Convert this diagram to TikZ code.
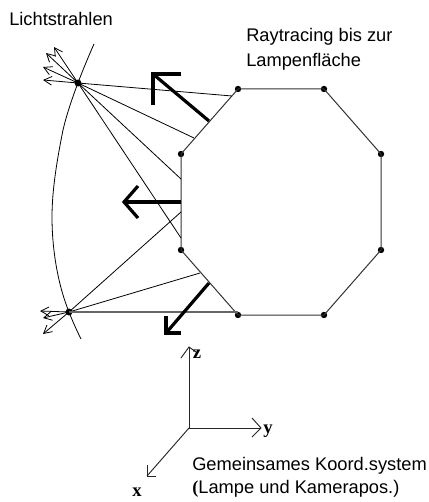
\documentclass[tikz,border=0pt]{standalone}
\usepackage{fontspec}
\setmainfont{Liberation Sans}
\newfontfamily\axisfont{Liberation Serif}
\usetikzlibrary{arrows.meta}
\tikzset{
  x=0.75pt,y=-0.75pt,
  edge/.style={line width=0.75pt,draw=black!80},
  ray/.style={line width=0.6pt,draw=black},
  lightarrow/.style={line width=0.6pt,draw=black,-{Straight Barb[length=6pt,width=6.5pt]}},
  axisline/.style={line width=0.7pt,draw=black!85},
  normalline/.style={line width=2.4pt,draw=black,miter limit=10},
  dotmark/.style={circle,fill=black,inner sep=0pt,minimum size=4.8pt},
  srcmark/.style={circle,fill=black,inner sep=0pt,minimum size=5.2pt},
  label/.style={inner sep=0pt,anchor=base west,font=\fontsize{13.7pt}{15pt}\selectfont},
  axislabel/.style={inner sep=0pt,anchor=base,font=\axisfont\bfseries\fontsize{14pt}{16pt}\selectfont}
}
\begin{document}
\begin{tikzpicture}
\useasboundingbox (0,0) rectangle (428,502);
% octagon
\node[dotmark] (v1) at (238,89) {};
\node[dotmark] (v2) at (324,89) {};
\node[dotmark] (v3) at (381,154) {};
\node[dotmark] (v4) at (381,250) {};
\node[dotmark] (v5) at (324,315) {};
\node[dotmark] (v6) at (238,315) {};
\node[dotmark] (v7) at (181,250) {};
\node[dotmark] (v8) at (181,154) {};
\draw[edge] (v1.center)--(v2.center)--(v3.center)--(v4.center)--(v5.center)--(v6.center)--(v7.center)--(v8.center)--cycle;
% arc
\coordinate (a0) at (94,44);
\coordinate (a9) at (81,339);
\draw[ray] (a0) .. controls (86,62) and (70,100) .. (63,130)
  .. controls (57,160) and (52,190) .. (52,217)
  .. controls (52,250) and (58,285) .. (69,312)
  .. controls (72,320) and (77,331) .. (a9);
% sources
\node[srcmark] (s1) at (78,83) {};
\node[srcmark] (s2) at (69,312) {};
% rays
\coordinate (r1) at (232,96);
\coordinate (r2) at (194,138);
\coordinate (r3) at (181,179);
\coordinate (r4) at (181,238);
\coordinate (r5) at (181,212);
\coordinate (r6) at (200,273);
\coordinate (r7) at (238,312);
\draw[ray] (s1.center)--(r1);
\draw[ray] (s1.center)--(r2);
\draw[ray] (s1.center)--(r3);
\draw[ray] (s1.center)--(r4);
\draw[ray] (s2.center)--(r5);
\draw[ray] (s2.center)--(r6);
\draw[ray,draw=black!60,line width=0.9pt] (s2.center)--(r7);
% light arrows
\coordinate (l1) at (43,80);
\coordinate (l2) at (43,67);
\coordinate (l3) at (46,53);
\coordinate (l4) at (54,47);
\coordinate (l5) at (40,311);
\coordinate (l6) at (43,318);
\coordinate (l7) at (43,334);
\foreach \t in {l1,l2,l3,l4} \draw[lightarrow] (s1.center)--(\t);
\foreach \t in {l5,l6,l7} \draw[lightarrow] (s2.center)--(\t);
% normals
\coordinate (n1a) at (209,121);
\coordinate (n1b) at (153,74);
\coordinate (n1c) at (181,74);
\coordinate (n1d) at (153,105);
\coordinate (n2a) at (181,202);
\coordinate (n2b) at (124,202);
\coordinate (n2c) at (138,186);
\coordinate (n2d) at (138,218);
\coordinate (n3a) at (209,283);
\coordinate (n3b) at (166,333);
\coordinate (n3c) at (166,316);
\coordinate (n3d) at (181,333);
\draw[normalline] (n1a)--(n1b);
\draw[normalline] (n1c)--(n1b)--(n1d);
\draw[normalline] (n2a)--(n2b);
\draw[normalline] (n2c)--(n2b)--(n2d);
\draw[normalline] (n3a)--(n3b);
\draw[normalline] (n3c)--(n3b)--(n3d);
% axes
\coordinate (o) at (189,428);
\coordinate (ax) at (147,476);
\coordinate (axc) at (156,476);
\coordinate (axd) at (147,465);
\coordinate (ay) at (261,428);
\coordinate (ayc) at (252,418);
\coordinate (ayd) at (252,437);
\coordinate (az) at (189,347);
\coordinate (azc) at (181,358);
\coordinate (azd) at (196,352);
\draw[axisline] (o)--(ax);
\draw[axisline] (axc)--(ax)--(axd);
\draw[axisline] (o)--(ay);
\draw[axisline] (ayc)--(ay)--(ayd);
\draw[axisline] (o)--(az);
\draw[axisline] (azc)--(az)--(azd);
% labels
\node[axislabel] (zl) at (197,358) {z};
\node[axislabel] (yl) at (268,433) {y};
\node[axislabel] (xl) at (137,496) {x};
\node[label] (t1) at (9,26) {Lichtstrahlen};
\node[label] (t2) at (246,42) {Raytracing bis zur};
\node[label] (t3) at (246,67) {Lampenfläche};
\node[label] (t4) at (192,470) {Gemeinsames Koord.system};
\node[label] (t5) at (192,493) {{\axisfont\bfseries(}Lampe und Kamerapos.)};
\end{tikzpicture}
\end{document}
